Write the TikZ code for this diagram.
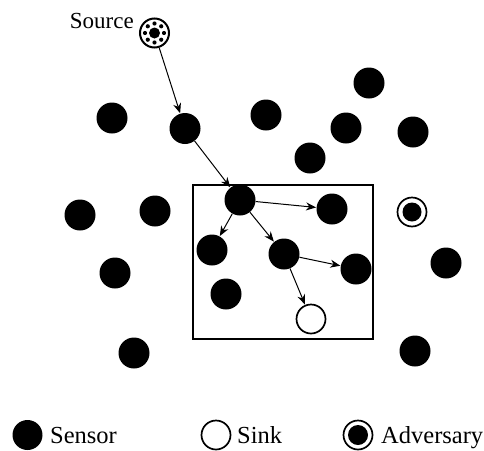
\documentclass[tikz,border=0pt]{standalone}
\usepackage{fontspec}
\setmainfont{Liberation Serif}
\usetikzlibrary{arrows.meta,calc}
\tikzset{
  sensor/.style={circle,fill=black,minimum size=31pt,inner sep=0pt},
  sinknode/.style={circle,draw=black,line width=1.7pt,fill=white,minimum size=29pt,inner sep=0pt},
  advnode/.style={circle,draw=black,line width=1.7pt,minimum size=29pt,inner sep=0pt},
  link/.style={-{Stealth[length=10pt,width=8pt]},line width=1pt,shorten >=0.3pt},
  lbl/.style={font=\fontsize{24.5}{24.5}\selectfont,inner sep=0pt,anchor=base west}
}
\begin{document}
\begin{tikzpicture}[x=1pt,y=-1pt]
\useasboundingbox (0,0) rectangle (484,450);
% box
\draw[line width=1.3pt] (193,185) rectangle (373,339);
% source
\node[circle,draw=black,line width=2pt,minimum size=29pt,inner sep=0pt] (src) at (154.5,33) {};
\fill (154.5,33) circle (5.5pt);
\foreach \a in {0,45,...,315} \fill ($(154.5,33)+(\a:9.5pt)$) circle (2.1pt);
\node[font=\fontsize{23}{23}\selectfont,anchor=base east,inner sep=0pt] (srclbl) at (134,28) {Source};
% sensors
\node[sensor] (s1) at (112,118) {};
\node[sensor] (s2) at (185,128.5) {};
\node[sensor] (s3) at (266,115) {};
\node[sensor] (s4) at (369,83) {};
\node[sensor] (s5) at (346,128) {};
\node[sensor] (s6) at (413,132) {};
\node[sensor] (s7) at (310,158) {};
\node[sensor] (s8) at (80,215) {};
\node[sensor] (s9) at (155,211) {};
\node[sensor] (a) at (240,200) {};
\node[sensor] (b) at (332,209) {};
\node[sensor] (c) at (212,250) {};
\node[sensor] (d) at (284,254) {};
\node[sensor] (e) at (356,269) {};
\node[sensor] (f) at (226,294) {};
\node[sinknode] (sink) at (311,319) {};
\node[advnode] (adv) at (412,212) {};
\fill (412,212) circle (9.5pt);
\node[sensor] (s10) at (115,273) {};
\node[sensor] (s11) at (446,263) {};
\node[sensor] (s12) at (134,353) {};
\node[sensor] (s13) at (415,351) {};
% links
\draw[link] (src) -- (s2);
\draw[link] (s2) -- (a);
\draw[link] (a) -- (b);
\draw[link] (a) -- (c);
\draw[link] (a) -- (d);
\draw[link] (d) -- (e);
\draw[link] (d) -- (sink);
% legend
\node[sensor,minimum size=30pt] (ls) at (27.5,435) {};
\node[lbl] (lst) at (50,443) {Sensor};
\node[sinknode] (lk) at (216,435) {};
\node[lbl] (lkt) at (237,443) {Sink};
\node[advnode] (la) at (358,435) {};
\fill (358,435) circle (10pt);
\node[lbl] (lat) at (381,443) {Adversary};
\end{tikzpicture}
\end{document}
